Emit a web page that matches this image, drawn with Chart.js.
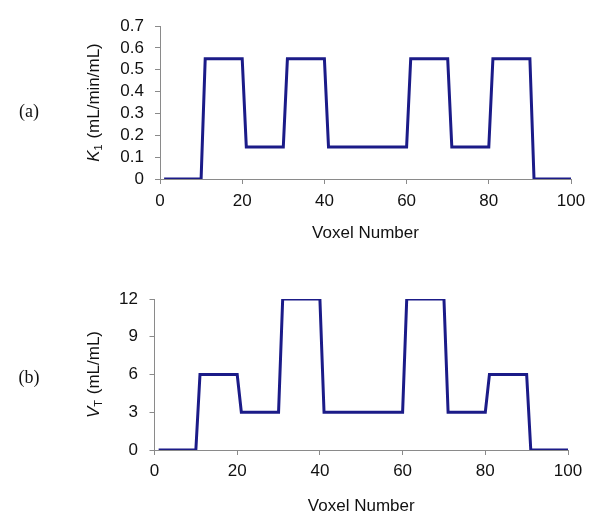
<!DOCTYPE html>
<html>
<head>
<meta charset="utf-8">
<script src="https://cdn.jsdelivr.net/npm/chart.js@4"></script>
<style>
  html, body { margin: 0; padding: 0; background: #fff; }
  #wrap { position: relative; width: 600px; height: 520px; }
  canvas { position: absolute; left: 0; }
  #c1 { top: 0; }
  #c2 { top: 260px; }
</style>
</head>
<body>
<div id="wrap">
  <canvas id="c1" width="600" height="260"></canvas>
  <canvas id="c2" width="600" height="260"></canvas>
</div>
<script>
// Voxel numbers at the corners of the step profile
const voxels = [1, 10, 11, 20, 21, 30, 31, 40, 41, 60, 61, 70, 71, 80, 81, 90, 91, 100];
// Panel (a): K1 (mL/min/mL)
const k1Values = [0, 0, 0.55, 0.55, 0.146, 0.146, 0.55, 0.55, 0.146, 0.146, 0.55, 0.55, 0.146, 0.146, 0.55, 0.55, 0, 0];
// Panel (b): VT (mL/mL)
const vtValues = [0, 0, 6, 6, 3, 3, 12, 12, 3, 3, 12, 12, 3, 3, 6, 6, 0, 0];

const xTicks = [0, 20, 40, 60, 80, 100];
const k1Ticks = [0, 0.1, 0.2, 0.3, 0.4, 0.5, 0.6, 0.7];
const vtTicks = [0, 3, 6, 9, 12];

const LINE = '#1b1b88';
const AXIS = '#8a8a8a';
const TXT = '#111111';
const SANS = "'Liberation Sans', Arial, sans-serif";
const SERIF = "'Liberation Serif', 'Times New Roman', serif";

function toPoints(xs, ys) { return xs.map((x, i) => ({ x: x, y: ys[i] })); }

function titlePlugin(panelLabel, panelY, mainLetter, subLetter, rest, titleX) {
  return {
    id: 'customTitles',
    afterDraw(chart) {
      const ctx = chart.ctx;
      const ca = chart.chartArea;
      ctx.save();
      ctx.fillStyle = TXT;
      ctx.font = "18px " + SERIF;
      ctx.textAlign = 'center';
      ctx.textBaseline = 'middle';
      ctx.fillText(panelLabel, 29, panelY);
      const cy = (ca.top + ca.bottom) / 2;
      ctx.translate(titleX, cy);
      ctx.rotate(-Math.PI / 2);
      ctx.textAlign = 'left';
      ctx.textBaseline = 'middle';
      const fMain = "italic 17px " + SANS;
      const fSub = "11px " + SANS;
      const fRest = "17px " + SANS;
      ctx.font = fMain; const w1 = ctx.measureText(mainLetter).width;
      ctx.font = fSub; const w2 = ctx.measureText(subLetter).width;
      ctx.font = fRest; const w3 = ctx.measureText(rest).width;
      let x = -(w1 + w2 + 1 + w3) / 2;
      ctx.font = fMain; ctx.fillText(mainLetter, x, 0); x += w1;
      ctx.font = fSub; ctx.fillText(subLetter, x, 5); x += w2 + 1;
      ctx.font = fRest; ctx.fillText(rest, x, 0);
      ctx.restore();
    }
  };
}

function makeChart(id, values, yTicks, yMax, geom, plugin) {
  return new Chart(document.getElementById(id), {
    type: 'line',
    data: {
      datasets: [{
        data: toPoints(voxels, values),
        borderColor: LINE,
        borderWidth: 3,
        pointRadius: 0,
        tension: 0,
        fill: false,
        borderJoinStyle: 'miter'
      }]
    },
    options: {
      responsive: false,
      animation: false,
      events: [],
      layout: { padding: { left: 0, right: geom.padRight, top: geom.padTop, bottom: 0 } },
      plugins: { legend: { display: false }, tooltip: { enabled: false } },
      scales: {
        x: {
          type: 'linear',
          min: 0, max: 100,
          afterBuildTicks(scale) { scale.ticks = xTicks.map(v => ({ value: v })); },
          afterFit(scale) { scale.height = geom.xHeight; },
          grid: { display: true, drawOnChartArea: false, drawTicks: true, tickLength: 5, color: AXIS, lineWidth: 1 },
          border: { display: true, color: AXIS, width: 1 },
          ticks: { autoSkip: false, color: TXT, font: { family: SANS, size: 17, lineHeight: 1.2 }, padding: geom.xTickPad, maxRotation: 0 },
          title: { display: true, text: 'Voxel Number', color: TXT, font: { family: SANS, size: 17, lineHeight: 1.2 }, padding: { top: 0, bottom: geom.xTitlePad } }
        },
        y: {
          type: 'linear',
          min: 0, max: yMax,
          afterBuildTicks(scale) { scale.ticks = yTicks.map(v => ({ value: v })); },
          afterFit(scale) { scale.width = geom.yWidth; },
          grid: { display: true, drawOnChartArea: false, drawTicks: true, tickLength: 5, color: AXIS, lineWidth: 1 },
          border: { display: true, color: AXIS, width: 1 },
          ticks: { autoSkip: false, color: TXT, font: { family: SANS, size: 17, lineHeight: 1.2 }, padding: geom.yTickPad }
        }
      }
    },
    plugins: [plugin]
  });
}

makeChart('c1', k1Values, k1Ticks, 0.7,
  { padRight: 29, padTop: 26, xHeight: 81, yWidth: 160, xTickPad: 7, yTickPad: 11, xTitlePad: 16.8 },
  titlePlugin('(a)', 112, 'K', '1', ' (mL/min/mL)', 94));

makeChart('c2', vtValues, vtTicks, 12,
  { padRight: 32, padTop: 39, xHeight: 70, yWidth: 154.5, xTickPad: 6, yTickPad: 11.5, xTitlePad: 3.1 },
  titlePlugin('(b)', 118, 'V', 'T', ' (mL/mL)', 94));
</script>
</body>
</html>
